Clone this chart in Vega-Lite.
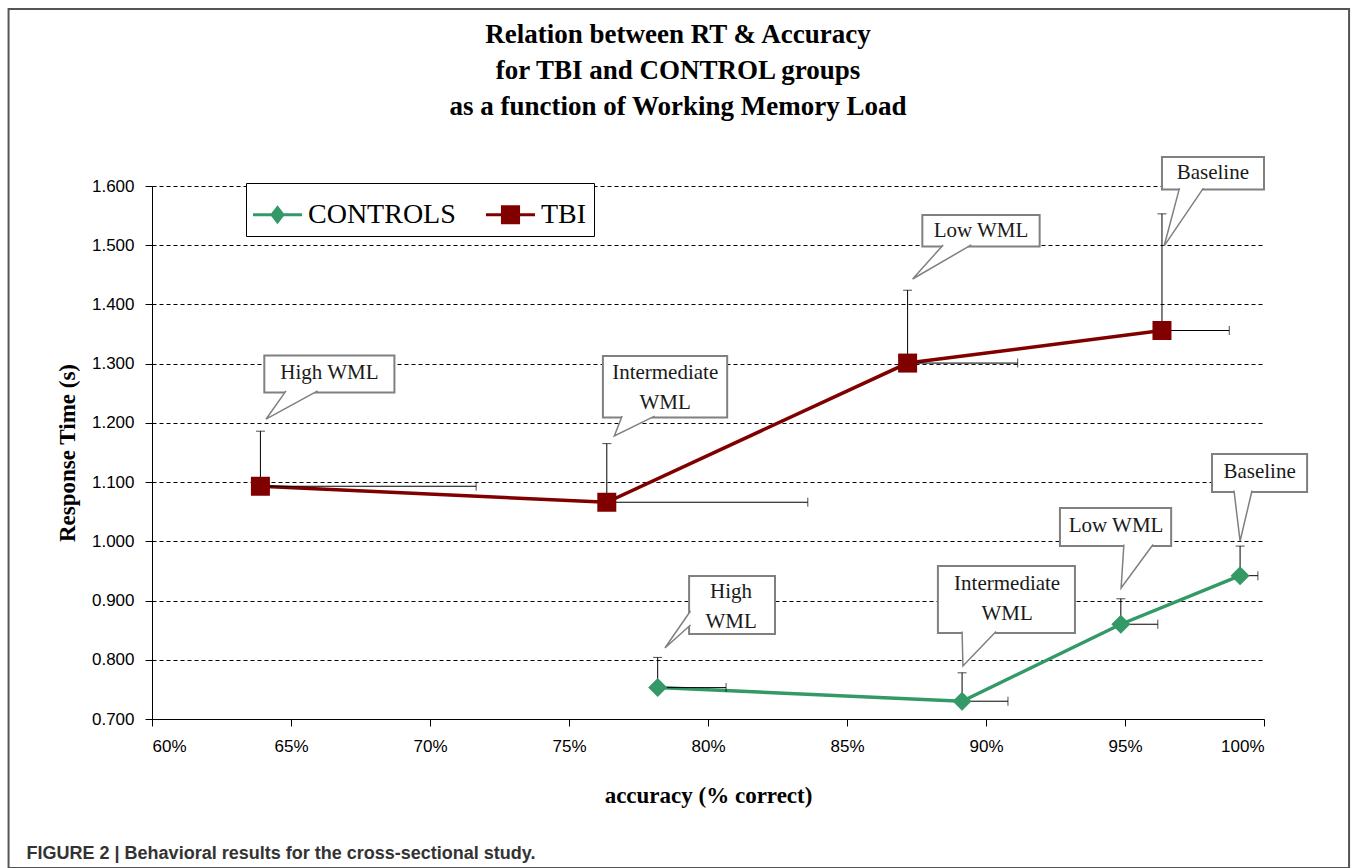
{
  "$schema": "https://vega.github.io/schema/vega-lite/v6.json",
  "padding": {"left": 7, "top": 7, "right": 0, "bottom": 0},
  "background": "white",
  "title": {
    "text": "FIGURE 2 | Behavioral results for the cross-sectional study.",
    "orient": "bottom",
    "anchor": "start",
    "font": "Liberation Sans",
    "fontSize": 18,
    "fontWeight": "bold",
    "color": "#333333",
    "offset": -24,
    "dx": 19
  },
  "datasets": {
    "points": [
      {"group": "TBI", "level": "High WML", "acc": 0.639, "rt": 1.093, "accHi": 0.7166, "rtHi": 1.186},
      {"group": "TBI", "level": "Intermediate WML", "acc": 0.7636, "rt": 1.066, "accHi": 0.8359, "rtHi": 1.165},
      {"group": "TBI", "level": "Low WML", "acc": 0.8718, "rt": 1.301, "accHi": 0.9114, "rtHi": 1.424},
      {"group": "TBI", "level": "Baseline", "acc": 0.9633, "rt": 1.356, "accHi": 0.9875, "rtHi": 1.553},
      {"group": "CONTROLS", "level": "High WML", "acc": 0.7819, "rt": 0.753, "accHi": 0.8065, "rtHi": 0.804},
      {"group": "CONTROLS", "level": "Intermediate WML", "acc": 0.8914, "rt": 0.730, "accHi": 0.9079, "rtHi": 0.778},
      {"group": "CONTROLS", "level": "Low WML", "acc": 0.9485, "rt": 0.860, "accHi": 0.9618, "rtHi": 0.903},
      {"group": "CONTROLS", "level": "Baseline", "acc": 0.9914, "rt": 0.942, "accHi": 0.9978, "rtHi": 0.992}
    ],
    "boxes": [
      {"id": "T_High", "label": "High WML", "x1": 0.6404, "x2": 0.6872, "y1": 1.3136, "y2": 1.2515, "tx": 0.6638, "ty": 1.284},
      {"id": "T_Int", "label": "Intermediate\nWML", "x1": 0.7622, "x2": 0.8069, "y1": 1.313, "y2": 1.209, "tx": 0.7846, "ty": 1.285},
      {"id": "T_Low", "label": "Low WML", "x1": 0.8771, "x2": 0.9193, "y1": 1.551, "y2": 1.498, "tx": 0.8982, "ty": 1.5245},
      {"id": "T_Base", "label": "Baseline", "x1": 0.9633, "x2": 1.0, "y1": 1.649, "y2": 1.594, "tx": 0.9816, "ty": 1.6215},
      {"id": "C_High", "label": "High\nWML", "x1": 0.7932, "x2": 0.8241, "y1": 0.9414, "y2": 0.8435, "tx": 0.8083, "ty": 0.914},
      {"id": "C_Int", "label": "Intermediate\nWML", "x1": 0.8827, "x2": 0.932, "y1": 0.9583, "y2": 0.8452, "tx": 0.9076, "ty": 0.928},
      {"id": "C_Low", "label": "Low WML", "x1": 0.9266, "x2": 0.9666, "y1": 1.0563, "y2": 0.9921, "tx": 0.9468, "ty": 1.0259},
      {"id": "C_Base", "label": "Baseline", "x1": 0.9813, "x2": 1.0155, "y1": 1.1475, "y2": 1.0833, "tx": 0.9984, "ty": 1.1171}
    ],
    "pointers": [
      {"id": "T_High", "seq": 0, "px": 0.6482, "py": 1.254},
      {"id": "T_High", "seq": 1, "px": 0.641, "py": 1.2062},
      {"id": "T_High", "seq": 2, "px": 0.6596, "py": 1.254},
      {"id": "T_Int", "seq": 0, "px": 0.7691, "py": 1.2115},
      {"id": "T_Int", "seq": 1, "px": 0.7663, "py": 1.1778},
      {"id": "T_Int", "seq": 2, "px": 0.7808, "py": 1.2115},
      {"id": "T_Low", "seq": 0, "px": 0.8846, "py": 1.5005},
      {"id": "T_Low", "seq": 1, "px": 0.8736, "py": 1.443},
      {"id": "T_Low", "seq": 2, "px": 0.8947, "py": 1.5005},
      {"id": "T_Base", "seq": 0, "px": 0.9696, "py": 1.5965},
      {"id": "T_Base", "seq": 1, "px": 0.9641, "py": 1.499},
      {"id": "T_Base", "seq": 2, "px": 0.9782, "py": 1.5965},
      {"id": "C_High", "seq": 0, "px": 0.7937, "py": 0.8823},
      {"id": "C_High", "seq": 1, "px": 0.7845, "py": 0.8199},
      {"id": "C_High", "seq": 2, "px": 0.7937, "py": 0.8587},
      {"id": "C_Int", "seq": 0, "px": 0.8914, "py": 0.8477},
      {"id": "C_Int", "seq": 1, "px": 0.8917, "py": 0.7895},
      {"id": "C_Int", "seq": 2, "px": 0.9036, "py": 0.8477},
      {"id": "C_Low", "seq": 0, "px": 0.9496, "py": 0.9946},
      {"id": "C_Low", "seq": 1, "px": 0.9486, "py": 0.9212},
      {"id": "C_Low", "seq": 2, "px": 0.9601, "py": 0.9946},
      {"id": "C_Base", "seq": 0, "px": 0.9892, "py": 1.0858},
      {"id": "C_Base", "seq": 1, "px": 0.9914, "py": 1.0005},
      {"id": "C_Base", "seq": 2, "px": 0.9957, "py": 1.0858}
    ]
  },
  "vconcat": [
    {
      "width": 1112,
      "height": 533,
      "title": {
        "text": ["Relation between RT & Accuracy", "for TBI and CONTROL groups", "as a function of Working Memory Load"],
        "anchor": "middle",
        "frame": "group",
        "font": "Liberation Serif",
        "fontSize": 27,
        "fontWeight": "bold",
        "lineHeight": 36,
        "color": "black",
        "dx": -30,
        "offset": -113
      },
      "layer": [
        {
          "data": {"values": [{}]},
          "mark": {"type": "rect", "fill": null, "fillOpacity": 0, "stroke": "#555555", "strokeWidth": 2},
          "encoding": {
            "x": {"datum": 0.5484, "type": "quantitative", "scale": {"domain": [0.6, 1.0], "nice": false, "zero": false}},
            "x2": {"datum": 1.0306},
            "y": {"datum": 1.8989, "type": "quantitative", "scale": {"domain": [0.7, 1.6], "nice": false, "zero": false}},
            "y2": {"datum": 0.4484}
          }
        },
        {
          "data": {"name": "boxes"},
          "mark": {"type": "rect", "fill": "white", "stroke": "#808080", "strokeWidth": 2},
          "encoding": {
            "x": {"field": "x1", "type": "quantitative", "scale": {"domain": [0.6, 1.0], "nice": false, "zero": false}},
            "x2": {"field": "x2"},
            "y": {"field": "y1", "type": "quantitative", "scale": {"domain": [0.7, 1.6], "nice": false, "zero": false}},
            "y2": {"field": "y2"}
          }
        },
        {
          "data": {"name": "pointers"},
          "mark": {"type": "line", "fill": "white", "stroke": "#808080", "strokeWidth": 1.5, "interpolate": "linear"},
          "encoding": {
            "x": {"field": "px", "type": "quantitative", "scale": {"domain": [0.6, 1.0], "nice": false, "zero": false}},
            "y": {"field": "py", "type": "quantitative", "scale": {"domain": [0.7, 1.6], "nice": false, "zero": false}},
            "detail": {"field": "id"},
            "order": {"field": "seq"}
          }
        },
        {
          "data": {"name": "boxes"},
          "mark": {"type": "text", "font": "Liberation Serif", "fontSize": 21, "color": "#1a1a1a", "align": "center", "baseline": "middle", "lineBreak": "\n", "lineHeight": 30},
          "encoding": {
            "x": {"field": "tx", "type": "quantitative", "scale": {"domain": [0.6, 1.0], "nice": false, "zero": false}},
            "y": {"field": "ty", "type": "quantitative", "scale": {"domain": [0.7, 1.6], "nice": false, "zero": false}},
            "text": {"field": "label"}
          }
        },
        {
          "data": {"name": "points"},
          "transform": [{"filter": "datum.group === 'TBI'"}],
          "mark": {"type": "line", "strokeWidth": 3.5, "color": "#800000"},
          "encoding": {
            "x": {
              "field": "acc", "type": "quantitative",
              "scale": {"domain": [0.6, 1.0], "nice": false, "zero": false},
              "axis": {
                "title": "accuracy (% correct)",
                "values": [0.6, 0.65, 0.7, 0.75, 0.8, 0.85, 0.9, 0.95, 1.0],
                "format": ".0%",
                "grid": false,
                "labelPadding": 12,
                "titlePadding": 30
              }
            },
            "y": {
              "field": "rt", "type": "quantitative",
              "scale": {"domain": [0.7, 1.6], "nice": false, "zero": false},
              "axis": {
                "title": "Response Time (s)",
                "values": [0.7, 0.8, 0.9, 1.0, 1.1, 1.2, 1.3, 1.4, 1.5, 1.6],
                "format": ".3f",
                "grid": true,
                "labelPadding": 11,
                "titlePadding": 12
              }
            }
          }
        },
        {
          "data": {"name": "points"},
          "transform": [{"filter": "datum.group === 'CONTROLS'"}],
          "mark": {"type": "line", "strokeWidth": 3.5, "color": "#339966"},
          "encoding": {
            "x": {"field": "acc", "type": "quantitative", "scale": {"domain": [0.6, 1.0], "nice": false, "zero": false}},
            "y": {"field": "rt", "type": "quantitative", "scale": {"domain": [0.7, 1.6], "nice": false, "zero": false}}
          }
        },
        {
          "data": {"name": "points"},
          "mark": {"type": "rule", "color": "black", "strokeWidth": 1},
          "encoding": {
            "x": {"field": "acc", "type": "quantitative", "scale": {"domain": [0.6, 1.0], "nice": false, "zero": false}},
            "y": {"field": "rt", "type": "quantitative", "scale": {"domain": [0.7, 1.6], "nice": false, "zero": false}},
            "y2": {"field": "rtHi"}
          }
        },
        {
          "data": {"name": "points"},
          "mark": {"type": "tick", "orient": "horizontal", "color": "black", "size": 9, "thickness": 1},
          "encoding": {
            "x": {"field": "acc", "type": "quantitative", "scale": {"domain": [0.6, 1.0], "nice": false, "zero": false}},
            "y": {"field": "rtHi", "type": "quantitative", "scale": {"domain": [0.7, 1.6], "nice": false, "zero": false}}
          }
        },
        {
          "data": {"name": "points"},
          "mark": {"type": "rule", "color": "black", "strokeWidth": 1},
          "encoding": {
            "x": {"field": "acc", "type": "quantitative", "scale": {"domain": [0.6, 1.0], "nice": false, "zero": false}},
            "x2": {"field": "accHi"},
            "y": {"field": "rt", "type": "quantitative", "scale": {"domain": [0.7, 1.6], "nice": false, "zero": false}}
          }
        },
        {
          "data": {"name": "points"},
          "mark": {"type": "tick", "orient": "vertical", "color": "black", "size": 9, "thickness": 1},
          "encoding": {
            "x": {"field": "accHi", "type": "quantitative", "scale": {"domain": [0.6, 1.0], "nice": false, "zero": false}},
            "y": {"field": "rt", "type": "quantitative", "scale": {"domain": [0.7, 1.6], "nice": false, "zero": false}}
          }
        },
        {
          "data": {"name": "points"},
          "transform": [{"filter": "datum.group === 'CONTROLS'"}],
          "mark": {"type": "point", "filled": true, "opacity": 1, "size": 361, "shape": "diamond", "color": "#339966"},
          "encoding": {
            "x": {"field": "acc", "type": "quantitative", "scale": {"domain": [0.6, 1.0], "nice": false, "zero": false}},
            "y": {"field": "rt", "type": "quantitative", "scale": {"domain": [0.7, 1.6], "nice": false, "zero": false}}
          }
        },
        {
          "data": {"name": "points"},
          "transform": [{"filter": "datum.group === 'TBI'"}],
          "mark": {"type": "point", "filled": true, "opacity": 1, "size": 361, "shape": "square", "color": "#800000"},
          "encoding": {
            "x": {"field": "acc", "type": "quantitative", "scale": {"domain": [0.6, 1.0], "nice": false, "zero": false}},
            "y": {"field": "rt", "type": "quantitative", "scale": {"domain": [0.7, 1.6], "nice": false, "zero": false}}
          }
        },
        {
          "data": {"name": "points"},
          "transform": [{"filter": "datum.rt < 0"}],
          "mark": {"type": "point", "filled": true, "opacity": 1},
          "encoding": {
            "x": {"field": "acc", "type": "quantitative", "scale": {"domain": [0.6, 1.0], "nice": false, "zero": false}},
            "y": {"field": "rt", "type": "quantitative", "scale": {"domain": [0.7, 1.6], "nice": false, "zero": false}},
            "color": {
              "field": "group", "type": "nominal",
              "scale": {"domain": ["CONTROLS", "TBI"], "range": ["#339966", "#800000"]},
              "legend": {
                "title": null,
                "orient": "none",
                "legendX": 94,
                "legendY": -3,
                "direction": "horizontal",
                "strokeColor": "black",
                "fillColor": "white",
                "padding": 7,
                "labelFont": "Liberation Serif",
                "labelFontSize": 28,
                "labelColor": "black",
                "labelOffset": 6,
                "columnPadding": 30,
                "symbolSize": 2400,
                "symbolStrokeWidth": 0
              }
            },
            "shape": {
              "field": "group", "type": "nominal",
              "scale": {
                "domain": ["CONTROLS", "TBI"],
                "range": [
                  "M-1,-0.06H1V0.06H-1ZM0,-0.39L0.3,0L0,0.39L-0.3,0Z",
                  "M-1,-0.06H1V0.06H-1ZM-0.39,-0.39H0.39V0.39H-0.39Z"
                ]
              }
            }
          }
        }
      ]
    }
  ],
  "config": {
    "view": {"stroke": null},
    "axis": {
      "domainColor": "black",
      "domainWidth": 1,
      "tickColor": "black",
      "tickSize": 7,
      "tickWidth": 1,
      "gridColor": "black",
      "gridDash": [4, 3],
      "gridWidth": 1,
      "gridOpacity": 1,
      "labelFont": "Liberation Sans",
      "labelFontSize": 17,
      "labelColor": "black",
      "titleFont": "Liberation Serif",
      "titleFontSize": 23,
      "titleFontWeight": "bold",
      "titleColor": "black"
    }
  }
}
